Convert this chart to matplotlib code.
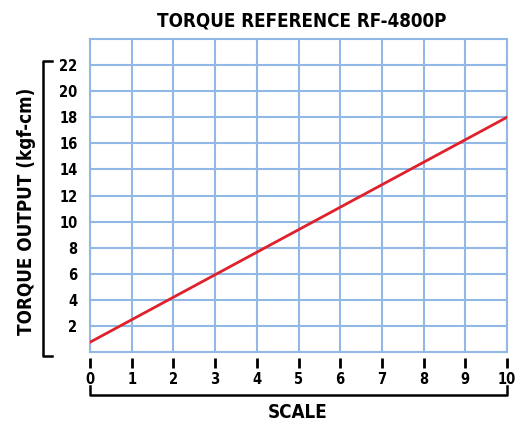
import matplotlib
matplotlib.use("Agg")
import matplotlib.pyplot as plt

plt.rcParams['font.family'] = ['DejaVu Sans']
plt.rcParams['font.stretch'] = 'condensed'
plt.rcParams['font.weight'] = 'bold'

scale = [0, 10]
torque = [0.75, 18.0]
x_ticks = list(range(0, 11))
y_ticks = list(range(2, 23, 2))

blue = '#92b8e6'
red = '#e0202a'

fig = plt.figure(figsize=(5.18, 4.23), dpi=100)
ax = fig.add_axes([90/518, 1 - 352/423, 417/518, 313/423])

ax.plot(scale, torque, color=red, lw=2.0, zorder=3)
ax.set_xlim(0, 10)
ax.set_ylim(0, 24)
ax.set_xticks(x_ticks)
ax.set_yticks(y_ticks)
ax.grid(True, color=blue, lw=1.5)
for s in ax.spines.values():
    s.set_color(blue)
    s.set_linewidth(1.5)

ax.tick_params(axis='y', length=0, pad=9, labelsize=10.5)
ax.tick_params(axis='x', length=0, labelbottom=False)
# x tick marks sit a little below the axis
sec = ax.secondary_xaxis(-0.018)
sec.set_xticks(x_ticks)
sec.tick_params(length=7, width=2, color='black', pad=3, labelsize=10.5)
sec.spines['bottom'].set_visible(False)
for lab in ax.get_yticklabels() + sec.get_xticklabels():
    lab.set_fontweight('bold')
    lab.set_fontstretch('condensed')

# brackets
ax.plot([-0.091, -0.113, -0.113, -0.091], [0.93, 0.93, -0.013, -0.013],
        color='black', lw=1.8, transform=ax.transAxes, clip_on=False)
ax.plot([0, 0, 1, 1], [-0.11, -0.137, -0.137, -0.11],
        color='black', lw=1.8, transform=ax.transAxes, clip_on=False)

kw = dict(ha='center', va='center', fontsize=13.5, fontweight='bold', fontstretch='condensed')
fig.text(302/518, 1 - 21/423, 'TORQUE REFERENCE RF-4800P', **kw)
fig.text(298/518, 1 - 412/423, 'SCALE', **kw)
fig.text(27/518, 1 - 211/423, 'TORQUE OUTPUT (kgf-cm)', rotation=90, **kw)

fig.savefig('out.png', dpi=100)
